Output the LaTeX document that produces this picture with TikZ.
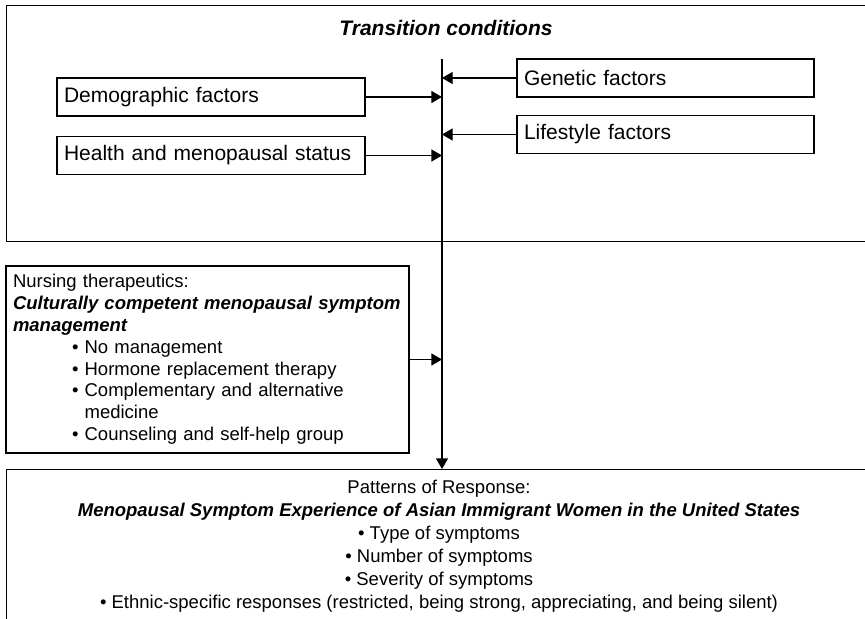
\documentclass[tikz,border=0pt]{standalone}
\usepackage{fontspec}
\setmainfont{Liberation Sans}
\usetikzlibrary{arrows.meta}

\tikzset{
  frame/.style={draw, line width=0.6pt, inner sep=0pt, anchor=north west},
  factor/.style={draw, line width=0.6pt, text width=#1, inner xsep=3.5pt,
    minimum height=19pt, align=left, font=\fontsize{10.5}{12.5}\selectfont},
  feed/.style={-{Triangle[length=5.3pt,width=6pt]}, line width=0.6pt},
}

\begin{document}
\begin{tikzpicture}[x=0.5pt,y=-0.5pt]
\clip (0,0) rectangle (865,619);
% outer frames
\node[frame, minimum width=440pt, minimum height=118pt] (cond) at (6,5) {};
\node[frame, minimum width=440pt, minimum height=85pt] (resp) at (6,469) {};
\node[font=\fontsize{10.5}{12.5}\selectfont\bfseries\itshape] (title) at (446,28) {Transition conditions};
% factors
\node[factor=147pt] (demo) at (211,97) {Demographic factors};
\node[factor=147pt] (health) at (211,155.5) {Health and menopausal status};
\node[factor=141.5pt] (gene) at (665.5,78) {Genetic factors};
\node[factor=141.5pt] (life) at (665.5,134.5) {Lifestyle factors};
% therapeutics
\node[draw, line width=0.6pt, text width=194.5pt, inner xsep=3.5pt, minimum height=93.5pt,
  align=left, font=\fontsize{9.25}{10.9}\selectfont] (nurse) at (207.5,359.5)
  {Nursing therapeutics:\\
   \textbf{\textit{Culturally competent menopausal symptom}}\\
   \textbf{\textit{management}}\\
   \hspace*{29.5pt}\textbullet\ No management\\
   \hspace*{29.5pt}\textbullet\ Hormone replacement therapy\\
   \hspace*{29.5pt}\textbullet\ Complementary and alternative\\
   \hspace*{29.5pt}\phantom{\textbullet\ }medicine\\
   \hspace*{29.5pt}\textbullet\ Counseling and self-help group};
% response
\node[anchor=north, align=center, inner sep=0pt, font=\fontsize{9.25}{11.5}\selectfont] (resptext) at (439,479.5)
  {Patterns of Response:\\
   \textbf{\textit{Menopausal Symptom Experience of Asian Immigrant Women in the United States}}\\
   \textbullet\ Type of symptoms\\
   \textbullet\ Number of symptoms\\
   \textbullet\ Severity of symptoms\\
   \textbullet\ Ethnic-specific responses (restricted, being strong, appreciating, and being silent)};
% connectors
\coordinate (top) at (442,59);
\draw[feed] (top) -- (top |- resp.north);
\draw[feed] (demo) -- (demo -| top);
\draw[feed] (health) -- (health -| top);
\draw[feed] (gene) -- (gene -| top);
\draw[feed] (life) -- (life -| top);
\draw[feed] (nurse) -- (nurse -| top);
\end{tikzpicture}
\end{document}
